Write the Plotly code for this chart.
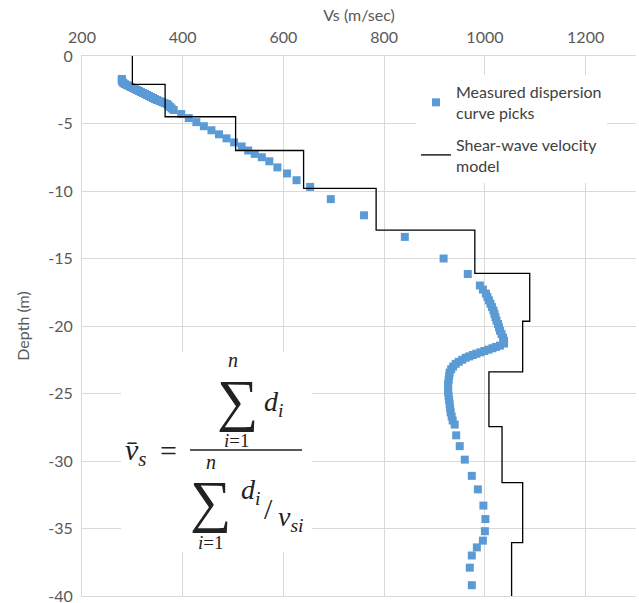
import plotly.graph_objects as go

# ---- Measured dispersion curve picks (Vs m/s, depth m) ----
vs_meas = [279, 279, 280, 282, 285, 289, 293, 297, 301, 305, 309, 313, 317, 321, 325,
           329, 333, 337, 341, 345, 349, 354, 359, 364, 369, 372, 375, 378, 382,
           397, 412, 427, 442, 457, 472, 487, 502, 517, 530, 543, 557, 572, 588, 607,
           626, 653, 694, 760, 841, 918, 966, 990, 996, 1002, 1005, 1008, 1011, 1014,
           1017, 1019, 1021, 1023, 1026, 1028, 1030, 1033, 1036, 1038, 1038, 1030, 1022,
           1015, 1007, 999, 991, 983, 976, 969, 962, 955, 948, 942, 937, 933, 930, 929,
           928, 927, 927, 927, 928, 929, 930, 931, 932, 934, 936, 940, 943, 950, 960,
           974, 986, 997, 1001, 1000, 996, 984, 974, 970, 974]
depth_meas = [-1.70, -1.80, -1.90, -2.00, -2.08, -2.15, -2.22, -2.30, -2.37, -2.44, -2.52,
              -2.59, -2.67, -2.74, -2.81, -2.89, -2.96, -3.04, -3.11, -3.19, -3.26, -3.34,
              -3.41, -3.49, -3.56, -3.67, -3.78, -3.89, -4.00,
              -4.3, -4.6, -4.9, -5.2, -5.5, -5.8, -6.1, -6.4, -6.7, -7.0, -7.25, -7.5, -7.8,
              -8.25, -8.7, -9.2, -9.7, -10.6, -11.8, -13.4, -15.0, -16.15, -17.0, -17.3,
              -17.6, -17.85, -18.1, -18.35, -18.6, -18.85, -19.1, -19.35, -19.6, -19.85,
              -20.1, -20.35, -20.6, -20.85, -21.1, -21.3, -21.45, -21.55, -21.65, -21.75,
              -21.85, -21.95, -22.05, -22.15, -22.25, -22.35, -22.5, -22.65, -22.8, -23.0,
              -23.2, -23.45, -23.7, -24.0, -24.3, -24.6, -24.9, -25.2, -25.5, -25.8, -26.1,
              -26.4, -26.7, -27.0, -27.3, -28.1, -28.9, -29.9, -31.1, -32.1, -33.3, -34.3,
              -35.2, -35.9, -36.4, -37.0, -37.9, -39.2]

# ---- Shear-wave velocity model (layers) ----
vs_model = [300, 365, 505, 640, 784, 980, 1089, 1075, 1008, 1034, 1075, 1053]
layer_top = [0, -2.1, -4.5, -7.0, -9.8, -12.9, -16.1, -19.65, -23.4, -27.45, -31.6, -36.05]
model_bottom = -40

x_ticks = [200, 400, 600, 800, 1000, 1200]
y_ticks = [0, -5, -10, -15, -20, -25, -30, -35, -40]
y_ticktext = ["0", "-5", "-10", "-15", "-20", "-25", "-30", "-35", "-40"]

# build step polyline from the layer table
step_x, step_y = [], []
bottoms = layer_top[1:] + [model_bottom]
for v, t, b in zip(vs_model, layer_top, bottoms):
    step_x += [v, v]
    step_y += [t, b]

fig = go.Figure()
fig.add_trace(go.Scatter(
    x=vs_meas, y=depth_meas, mode="markers",
    name="Measured dispersion<br>curve picks", legendgroup="a",
    marker=dict(symbol="square", size=8, color="#5B9BD5", line=dict(width=0)),
))
fig.add_trace(go.Scatter(
    x=step_x, y=step_y, mode="lines",
    name="Shear-wave velocity<br>model", legendgroup="b",
    line=dict(color="#000000", width=1.3),
))

W, H = 639, 603
L, R, T, B = 82, 3, 56, 7
PW, PH = W - L - R, H - T - B


def px(xp):
    return (xp - L) / PW


def py(yp):
    return (H - B - yp) / PH


FS = 16
fig.update_layout(
    width=W, height=H,
    margin=dict(l=L, r=R, t=T, b=B, autoexpand=False),
    paper_bgcolor="white", plot_bgcolor="white",
    font=dict(family="Lato, 'Open Sans', sans-serif", size=FS, color="#595959"),
    showlegend=True,
    legend=dict(
        x=px(416), y=py(75), xanchor="left", yanchor="top",
        bgcolor="white", borderwidth=0,
        font=dict(size=FS, color="#404040"),
        tracegroupgap=8, traceorder="grouped",
    ),
)
fig.update_xaxes(
    side="top", range=[200, 1300], tickvals=x_ticks, automargin=False,
    showgrid=True, gridcolor="#D9D9D9", gridwidth=1,
    showline=True, linecolor="#D9D9D9", linewidth=1, mirror=True,
    zeroline=False, ticks="", ticklabelstandoff=6,
    tickfont=dict(size=FS, color="#595959"),
    title=dict(text="Vs (m/sec)", font=dict(size=FS, color="#595959"), standoff=0),
)
fig.update_yaxes(
    range=[-40, 0], tickvals=y_ticks, ticktext=y_ticktext, automargin=False,
    showgrid=True, gridcolor="#D9D9D9", gridwidth=1,
    showline=True, linecolor="#D9D9D9", linewidth=1,
    zeroline=False, ticks="", ticklabelstandoff=5, ticklabeloverflow="allow",
    tickfont=dict(size=FS, color="#595959"),
    title=dict(text="Depth (m)", font=dict(size=FS, color="#595959"), standoff=14),
)

# ---- formula block (white box + text) ----
fig.add_shape(type="rect", xref="paper", yref="paper",
              x0=px(121), x1=px(312), y0=py(552), y1=py(352),
              fillcolor="white", line=dict(width=0), layer="above")
fig.add_shape(type="line", xref="paper", yref="paper",
              x0=px(190), x1=px(302), y0=py(450), y1=py(450),
              line=dict(color="#222222", width=1.5), layer="above")

MF = "Liberation Serif, 'DejaVu Serif', serif"
FC = "#222222"


def txt(x, y, s, size):
    fig.add_annotation(xref="paper", yref="paper", x=px(x), y=py(y), text=s,
                       showarrow=False, xanchor="center", yanchor="middle",
                       font=dict(family=MF, size=size, color=FC))


txt(136, 452, "<i>v\u0304</i><sub><i>s</i></sub>", 30)
txt(168, 451, "=", 30)
# numerator
txt(233, 360, "<i>n</i>", 20)
txt(237, 400, "\u2211", 58)
txt(237, 440, "<i>i</i>=1", 19)
txt(273, 404, "<i>d</i><sub><i>i</i></sub>", 28)
# denominator
txt(211, 462, "<i>n</i>", 20)
txt(210, 501, "\u2211", 58)
txt(211, 542, "<i>i</i>=1", 19)
txt(250, 491, "<i>d</i><sub><i>i</i></sub>", 28)
txt(268, 508, "/", 30)
txt(291, 518, "<i>v</i><sub><i>si</i></sub>", 28)

fig.write_html("out.html")
